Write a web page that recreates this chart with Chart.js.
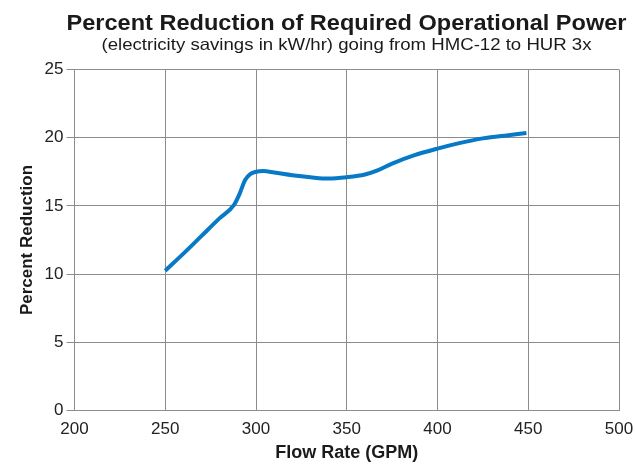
<!DOCTYPE html>
<html>
<head>
<meta charset="utf-8">
<script src="https://cdn.jsdelivr.net/npm/chart.js@4.4.1/dist/chart.umd.min.js"></script>
<style>
  html, body { margin: 0; padding: 0; background: #fff; }
  #wrap { width: 635px; height: 464px; position: relative; }
</style>
</head>
<body>
<div id="wrap"><canvas id="c" width="635" height="464"></canvas></div>
<script>
const chartTitle = "Percent Reduction of Required Operational Power";
const chartSubtitle = "(electricity savings in kW/hr) going from HMC-12 to HUR 3x";
const xAxisTitle = "Flow Rate (GPM)";
const yAxisTitle = "Percent Reduction";

const flowRates = [250, 260, 270, 280, 288, 291, 294, 297, 300, 304, 310, 320, 330, 340, 350, 360, 367, 375, 387, 400, 412, 425, 437, 449];
const percentReduction = [10.25, 11.5, 12.8, 14.1, 15.1, 15.9, 16.9, 17.35, 17.5, 17.55, 17.45, 17.25, 17.1, 17.0, 17.1, 17.3, 17.6, 18.1, 18.7, 19.2, 19.6, 19.95, 20.15, 20.35];

const xMin = 200, xMax = 500, xStep = 50;
const yMin = 0, yMax = 25, yStep = 5;

const points = flowRates.map((x, i) => ({ x: x, y: percentReduction[i] }));

const FONT = "'Liberation Sans', Arial, Helvetica, sans-serif";
const gridColor = '#8c8c8c';

function drawStretched(ctx, text, cx, baseline, font, targetWidth) {
  ctx.font = font;
  const w = ctx.measureText(text).width;
  const sx = targetWidth / w;
  ctx.save();
  ctx.translate(cx, baseline);
  ctx.scale(sx, 1);
  ctx.textAlign = 'center';
  ctx.textBaseline = 'alphabetic';
  ctx.fillText(text, 0, 0);
  ctx.restore();
}

const titlePlugin = {
  id: 'titles',
  afterDraw(chart) {
    const ctx = chart.ctx;
    ctx.save();
    ctx.fillStyle = '#1a1a1a';
    drawStretched(ctx, chartTitle, 346.5, 30, "bold 22px " + FONT, 560);
    drawStretched(ctx, chartSubtitle, 346.5, 50, "16.5px " + FONT, 490);
    ctx.restore();
  }
};

new Chart(document.getElementById('c'), {
  type: 'line',
  data: {
    datasets: [{
      data: points,
      borderColor: '#0779c6',
      borderWidth: 4,
      pointRadius: 0,
      fill: false,
      cubicInterpolationMode: 'monotone',
      borderCapStyle: 'butt'
    }]
  },
  options: {
    responsive: false,
    animation: false,
    layout: { padding: { top: 69.5, left: 0, right: 16, bottom: 0 } },
    plugins: { legend: { display: false }, tooltip: { enabled: false }, title: { display: false } },
    scales: {
      x: {
        type: 'linear',
        min: xMin, max: xMax,
        afterFit(s) { s.height = 53.5; s.paddingRight = 0; s.paddingLeft = 0; },
        grid: { color: gridColor, lineWidth: 1, drawTicks: false },
        border: { color: gridColor, width: 1 },
        ticks: { stepSize: xStep, padding: 9, color: '#222', font: { family: FONT, size: 17 } },
        title: { display: true, text: xAxisTitle, color: '#1a1a1a', font: { family: FONT, size: 18, weight: 'bold' }, padding: { top: 0, bottom: 0 } }
      },
      y: {
        type: 'linear',
        min: yMin, max: yMax,
        afterFit(s) { s.width = 74.5; s.paddingTop = 0; s.paddingBottom = 0; },
        grid: { color: gridColor, lineWidth: 1, drawTicks: true, tickLength: 8 },
        border: { color: gridColor, width: 1 },
        ticks: { stepSize: yStep, padding: 3, color: '#222', font: { family: FONT, size: 17 } },
        title: { display: true, text: yAxisTitle, color: '#1a1a1a', font: { family: FONT, size: 17, weight: 'bold' }, padding: { top: 17, bottom: 0 } }
      }
    }
  },
  plugins: [titlePlugin]
});
</script>
</body>
</html>
